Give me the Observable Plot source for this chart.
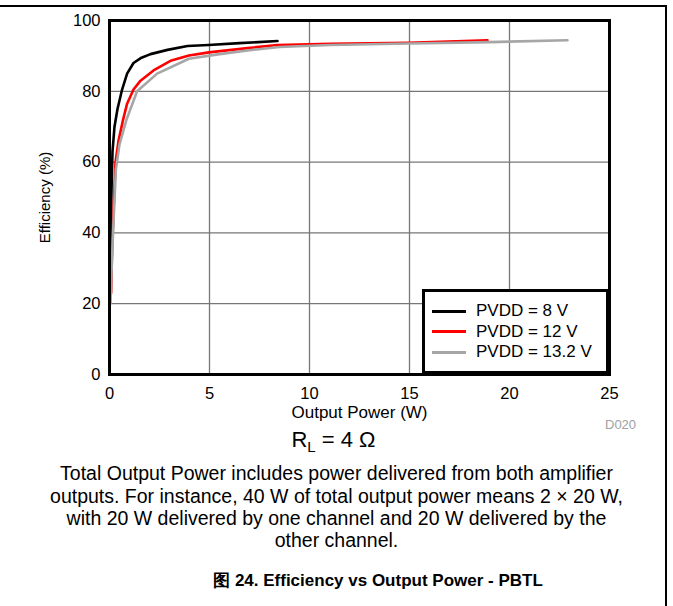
<!DOCTYPE html>
<html>
<head>
<meta charset="utf-8">
<script src="https://cdn.jsdelivr.net/npm/d3@7"></script>
<script src="https://cdn.jsdelivr.net/npm/@observablehq/plot@0.6"></script>
<style>
  html, body { margin: 0; padding: 0; background: #fff; }
  #wrap { position: relative; width: 673px; height: 606px; overflow: hidden; font-family: "Liberation Sans", Arial, sans-serif; }
  #border { position: absolute; left: 0; top: 5px; width: 665px; height: 610px; border-top: 2px solid #000; border-right: 2px solid #000; z-index: 5; pointer-events: none; }
  #chart { position: absolute; left: 0; top: 7px; }
  #legend { position: absolute; left: 422px; top: 289px; width: 181px; height: 79px; border: 3px solid #000; background: #fff; font-size: 17px; }
  .row { position: absolute; left: 0; height: 20px; display: flex; align-items: center; white-space: nowrap; }
  .sw { width: 34px; height: 0; margin-left: 7px; margin-right: 10px; }
  #d020 { position: absolute; left: 605px; top: 417px; font-size: 13px; color: #a0a0a0; }
  .cap { position: absolute; left: 0; width: 673px; text-align: center; font-size: 19.5px; color: #000; white-space: nowrap; }
  #title { position: absolute; left: 0; width: 756px; text-align: center; font-size: 17px; font-weight: bold; white-space: nowrap; }
</style>
</head>
<body>
<div id="wrap">
  <div id="border"></div>
  <div id="chart"></div>
  <div id="legend"></div>
  <div id="d020">D020</div>
  <div class="cap" style="top:427px; width:667px; font-size:22px;">R<sub style="font-size:15px;">L</sub> = 4 Ω</div>
  <div class="cap" style="top:462px;">Total Output Power includes power delivered from both amplifier</div>
  <div class="cap" style="top:485px;">outputs. For instance, 40 W of total output power means 2 × 20 W,</div>
  <div class="cap" style="top:507px;">with 20 W delivered by one channel and 20 W delivered by the</div>
  <div class="cap" style="top:529px;">other channel.</div>
  <div id="title" style="top:569px;">图 24. Efficiency vs Output Power - PBTL</div>
</div>
<script>
// Series names and colours
const seriesNames = ["PVDD = 8 V", "PVDD = 12 V", "PVDD = 13.2 V"];
const seriesColors = ["#000000", "#ff0000", "#a6a6a6"];

// PVDD = 8 V
const p8Power = [0.02, 0.06, 0.1, 0.15, 0.25, 0.4, 0.63, 0.88, 1.2, 1.6, 2.05, 2.9, 3.9, 4.95, 6.5, 8.4];
const p8Eff   = [22, 40, 52, 63, 70, 75, 80.5, 85, 88, 89.5, 90.5, 91.7, 92.8, 93.1, 93.6, 94.2];

// PVDD = 12 V
const p12Power = [0.08, 0.12, 0.18, 0.3, 0.45, 0.68, 0.88, 1.2, 1.55, 2.2, 3.05, 3.97, 4.97, 6.9, 8.4, 11.05, 14.95, 18.9];
const p12Eff   = [23, 33, 43, 60, 66, 72, 76.5, 80.5, 83, 85.9, 88.6, 90.1, 91, 92.2, 93.1, 93.4, 93.7, 94.4];

// PVDD = 13.2 V
const p132Power = [0.05, 0.12, 0.2, 0.32, 0.5, 0.85, 1.38, 2.38, 3.97, 5.5, 7, 8.5, 11, 15, 19, 22.9];
const p132Eff   = [20, 32, 43, 58, 65, 72, 80, 85, 89.2, 90.5, 91.6, 92.5, 93.1, 93.5, 93.9, 94.4];

// Axis ticks and titles
const xTicks = [0, 5, 10, 15, 20, 25];
const yTicks = [0, 20, 40, 60, 80, 100];
const xTitle = ["Output Power (W)"];
const yTitle = ["Efficiency (%)"];

const seriesData = [
  [p8Power, p8Eff],
  [p12Power, p12Eff],
  [p132Power, p132Eff]
];
const rows = seriesData.flatMap(([xs, ys], i) =>
  xs.map((x, j) => ({series: seriesNames[i], power: x, eff: ys[j]}))
);

const chart = Plot.plot({
  width: 667,
  height: 425,
  marginLeft: 109,
  marginRight: 58,
  marginTop: 13,
  marginBottom: 58,
  style: {fontFamily: "'Liberation Sans', Arial, sans-serif", fontSize: "16.5px", color: "#000", background: "#fff"},
  x: {domain: [0, 25], ticks: xTicks},
  y: {domain: [0, 100], ticks: yTicks},
  color: {domain: seriesNames, range: seriesColors},
  marks: [
    Plot.gridX(xTicks, {stroke: "#777", strokeOpacity: 1, strokeWidth: 1.3}),
    Plot.gridY(yTicks, {stroke: "#777", strokeOpacity: 1, strokeWidth: 1.3}),
    Plot.axisX(xTicks, {tickSize: 0, tickPadding: 13, label: null, fontSize: 16.5}),
    Plot.axisY(yTicks, {tickSize: 0, tickPadding: 9, label: null, fontSize: 16.5}),
    Plot.text(xTitle, {frameAnchor: "bottom", lineAnchor: "middle", textAnchor: "middle", dy: 38, fontSize: 17, fill: "#000"}),
    Plot.text(yTitle, {frameAnchor: "left", lineAnchor: "middle", textAnchor: "middle", dx: -64, rotate: -90, fontSize: 15, fill: "#000"}),
    Plot.line(rows, {x: "power", y: "eff", z: "series", stroke: "series", strokeWidth: 2.6, curve: "linear"}),
    Plot.frame({stroke: "#000", strokeWidth: 3})
  ]
});
document.getElementById("chart").appendChild(chart);

// Legend built from the same series arrays
const leg = document.getElementById("legend");
seriesNames.forEach((name, i) => {
  const r = document.createElement("div");
  r.className = "row";
  r.style.top = (9 + i * 20.5) + "px";
  const sw = document.createElement("div");
  sw.className = "sw";
  sw.style.borderTop = "3px solid " + seriesColors[i];
  const t = document.createElement("span");
  t.textContent = name;
  r.appendChild(sw);
  r.appendChild(t);
  leg.appendChild(r);
});
</script>
</body>
</html>
